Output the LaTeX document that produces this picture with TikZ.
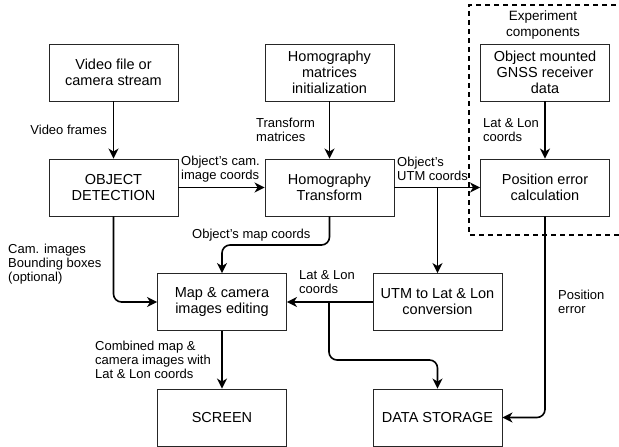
\documentclass[tikz,border=0pt]{standalone}
\usepackage{fontspec}
\setmainfont{Liberation Sans}
\usetikzlibrary{arrows.meta,positioning}

\begin{document}
\begin{tikzpicture}[x=1pt,y=-1pt]
\tikzstyle{block} = [
	shape=rectangle,
	draw=black!85, %border of the block
	line width=0.9pt,
	minimum width=129pt, %all blocks have the same size
	minimum height=57pt,
	align=center,
	inner sep=2pt,
	font=\fontsize{14.5}{16}\selectfont
];
\tikzstyle{lbl} = [
	align=left,
	inner sep=0pt,
	font=\fontsize{13}{14}\selectfont
];
\tikzstyle{flow} = [
	-{Stealth[length=10pt,width=10pt,inset=3pt]},
	line width=1.6pt,
	rounded corners=8pt
];

\useasboundingbox (0,0) rectangle (619,447);

%experiment components
\draw[line width=1.6pt, dash pattern=on 5pt off 4pt]
	(625,5) -- (469,5) -- (469,235) -- (625,235);
\node[align=center, inner sep=0pt, font=\fontsize{13.5}{16.5}\selectfont](Exp) at (543,25) {Experiment\\components};

%blocks
\node[block](Video) at (113.5,72.5) {Video file or\\camera stream};
\node[block](Detect) at (113.5,187.5) {OBJECT\\DETECTION};
\node[block](HomMat) at (329.5,72.5) {Homography\\matrices\\initialization};
\node[block](HomTr) at (329.5,187.5) {Homography\\Transform};
\node[block](Gnss) at (545,72.5) {Object mounted\\GNSS receiver\\data};
\node[block](PosErr) at (545,187.5) {Position error\\calculation};
\node[block](MapEd) at (222,302) {Map \& camera\\images editing};
\node[block](Utm) at (437.5,302) {UTM to Lat \& Lon\\conversion};
\node[block](Screen) at (222,417.5) {SCREEN};
\node[block](Store) at (437.5,417.5) {DATA STORAGE};

%branch points
\coordinate (UtmSplit) at (HomTr.east -| Utm.north);
\coordinate (LatSplit) at (329,302);
\coordinate (MapBend) at (280,245);
\coordinate (StoreBend) at (380,360);

%straight flows
\draw[flow] (Video.south) -- (Detect.north);
\draw[flow] (Detect.east) -- (HomTr.west);
\draw[flow] (HomMat.south) -- (HomTr.north);
\draw[flow] (Gnss.south) -- (PosErr.north);
\draw[flow] (HomTr.east) -- (PosErr.west);
\draw[flow] (UtmSplit) -- (Utm.north);
\draw[flow] (Utm.west) -- (MapEd.east);
\draw[flow] (MapEd.south) -- (Screen.north);

%flows with bends
\draw[flow] (HomTr.south) |- (MapBend) -| (MapEd.north);
\draw[flow] (Detect.south) |- (MapEd.west);
\draw[flow] (LatSplit) |- (StoreBend) -| (Store.north);
\draw[flow] (PosErr.south) |- (Store.east);

%labels
\node[lbl, anchor=east](LblFrames) at (107,130) {Video frames};
\node[lbl, anchor=west](LblCam) at (181,169) {Object's cam.\\image coords};
\node[lbl, anchor=west](LblTrans) at (256,130) {Transform\\matrices};
\node[lbl, anchor=west](LblGnss) at (483,130) {Lat \& Lon\\coords};
\node[lbl, anchor=west](LblUtm) at (397,169) {Object's\\UTM coords};
\node[lbl, anchor=west](LblMap) at (192,235) {Object's map coords};
\node[lbl, anchor=west](LblBoxes) at (8,264) {Cam. images\\Bounding boxes\\(optional)};
\node[lbl, anchor=west](LblLat) at (299,282) {Lat \& Lon\\coords};
\node[lbl, anchor=west](LblComb) at (95,360) {Combined map \&\\camera images with\\Lat \& Lon coords};
\node[lbl, anchor=west](LblErr) at (558,302) {Position\\error};

\end{tikzpicture}
\end{document}
